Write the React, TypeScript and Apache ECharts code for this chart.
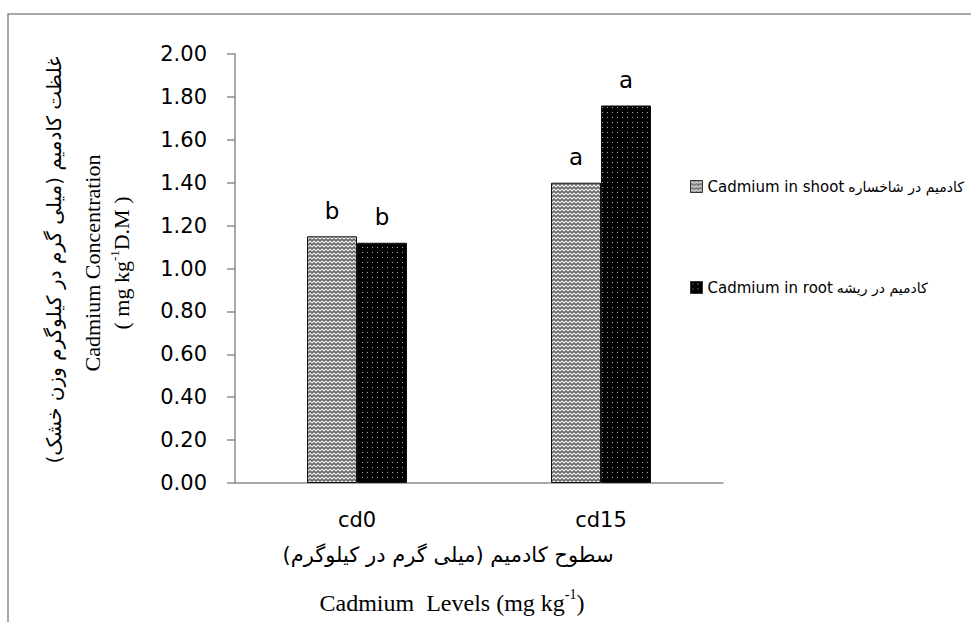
import React, { useEffect, useRef } from "react";
import * as echarts from "echarts";

const categories = ["cd0", "cd15"];
const shootValues = [1.15, 1.4];
const rootValues = [1.12, 1.76];
const shootLetters = ["b", "a"];
const rootLetters = ["b", "a"];
const seriesNames = ["Cadmium in shoot", "Cadmium in root"];
const seriesNamesFa = ["کادمیم در شاخساره", "کادمیم در ریشه"];
const yTitleFa = "غلظت کادمیم (میلی گرم در کیلوگرم وزن خشک)";
const yTitleEn = "Cadmium Concentration";
const xTitleFa = "سطوح کادمیم (میلی گرم در کیلوگرم)";

function makeShootPattern() {
  const c = document.createElement("canvas");
  c.width = 8;
  c.height = 8;
  const g = c.getContext("2d")!;
  g.fillStyle = "#6a6a6a";
  g.fillRect(0, 0, 8, 8);
  g.strokeStyle = "#f0f0f0";
  g.lineWidth = 1.1;
  for (const oy of [0, 4]) {
    g.beginPath();
    g.moveTo(0, oy + 3);
    g.lineTo(2, oy + 1);
    g.lineTo(4, oy + 3);
    g.lineTo(6, oy + 1);
    g.lineTo(8, oy + 3);
    g.stroke();
  }
  return c.toDataURL();
}

function makeRootPattern() {
  const c = document.createElement("canvas");
  c.width = 5;
  c.height = 5;
  const g = c.getContext("2d")!;
  g.fillStyle = "#000";
  g.fillRect(0, 0, 5, 5);
  g.fillStyle = "#a8a8a8";
  g.fillRect(2, 2, 1, 1);
  return c.toDataURL();
}

export default function App() {
  const ref = useRef<HTMLDivElement>(null);
  useEffect(() => {
    document.body.style.margin = "0";
    const chart = echarts.init(ref.current!, null, { renderer: "svg" });
    const shootPat: any = { image: makeShootPattern(), repeat: "repeat", imageWidth: 8, imageHeight: 8 };
    const rootPat: any = { image: makeRootPattern(), repeat: "repeat", imageWidth: 5, imageHeight: 5 };
    const tickFont = "'DejaVu Sans', sans-serif";
    const serif = "'Liberation Serif', serif";
    chart.setOption({
      animation: false,
      backgroundColor: "#fff",
      grid: { left: 235, right: 248, top: 54, bottom: 139, containLabel: false },
      legend: {
        orient: "vertical",
        left: 685,
        top: 174,
        itemGap: 86,
        itemWidth: 12,
        itemHeight: 12,
        itemStyle: { borderColor: "#333", borderWidth: 1 },
        icon: "rect",
        data: seriesNames,
        formatter: (name: string) => {
          const i = seriesNames.indexOf(name);
          return `{en|${name}}{fa|${seriesNamesFa[i]}}`;
        },
        textStyle: {
          rich: {
            en: { fontFamily: tickFont, fontSize: 15, color: "#000", padding: [0, 4, 0, 0] },
            fa: { fontFamily: tickFont, fontSize: 14, color: "#000" },
          },
        },
      },
      xAxis: {
        type: "category",
        data: categories,
        axisLine: { lineStyle: { color: "#8c8c8c", width: 1.5 } },
        axisTick: { show: false },
        axisLabel: { fontFamily: tickFont, fontSize: 21, color: "#000", margin: 26 },
      },
      yAxis: {
        type: "value",
        min: 0,
        max: 2,
        interval: 0.2,
        splitLine: { show: false },
        axisLine: { show: true, lineStyle: { color: "#8c8c8c", width: 1.5 } },
        axisTick: { show: true, inside: false, length: 8, lineStyle: { color: "#8c8c8c", width: 1.5 } },
        axisLabel: {
          fontFamily: tickFont,
          fontSize: 21,
          color: "#000",
          margin: 28,
          formatter: (v: number) => v.toFixed(2),
        },
      },
      series: [
        {
          name: seriesNames[0],
          type: "bar",
          data: shootValues,
          barWidth: 50,
          barGap: "0%",
          itemStyle: { color: shootPat, borderColor: "#111", borderWidth: 1 },
          label: {
            show: true,
            position: "top",
            distance: 14,
            fontFamily: tickFont,
            fontSize: 23,
            color: "#000",
            formatter: (p: any) => shootLetters[p.dataIndex],
          },
        },
        {
          name: seriesNames[1],
          type: "bar",
          data: rootValues,
          barWidth: 50,
          barGap: "0%",
          itemStyle: { color: rootPat, borderColor: "#111", borderWidth: 1 },
          label: {
            show: true,
            position: "top",
            distance: 14,
            fontFamily: tickFont,
            fontSize: 23,
            color: "#000",
            formatter: (p: any) => rootLetters[p.dataIndex],
          },
        },
      ],
      graphic: [
        {
          type: "rect",
          z: -10,
          shape: { x: 8, y: 14, width: 1000, height: 700 },
          style: { fill: "none", stroke: "#8c8c8c", lineWidth: 1.5 },
        },
        {
          type: "text",
          x: 54,
          y: 260,
          rotation: Math.PI / 2,
          style: {
            text: yTitleFa,
            font: "20px 'DejaVu Sans', sans-serif",
            fill: "#000",
            textAlign: "center",
            textVerticalAlign: "middle",
          },
        },
        {
          type: "text",
          x: 92,
          y: 263,
          rotation: Math.PI / 2,
          style: {
            text: yTitleEn,
            font: `22px ${serif}`,
            fill: "#000",
            textAlign: "center",
            textVerticalAlign: "middle",
          },
        },
        {
          type: "text",
          x: 120,
          y: 263,
          rotation: Math.PI / 2,
          style: {
            text: "{n|( mg kg}{s|-1}{n|D.M )}",
            textAlign: "center",
            textVerticalAlign: "middle",
            rich: {
              n: { fontFamily: serif, fontSize: 22, color: "#000", verticalAlign: "bottom", lineHeight: 25 },
              s: { fontFamily: serif, fontSize: 13, color: "#000", verticalAlign: "top", lineHeight: 25 },
            },
          },
        },
        {
          type: "text",
          x: 448,
          y: 555,
          style: {
            text: xTitleFa,
            font: "21px 'DejaVu Sans', sans-serif",
            fill: "#000",
            textAlign: "center",
            textVerticalAlign: "middle",
          },
        },
        {
          type: "text",
          x: 452,
          y: 601,
          style: {
            text: "{n|Cadmium  Levels (mg kg}{s|-1}{n|)}",
            textAlign: "center",
            textVerticalAlign: "middle",
            rich: {
              n: { fontFamily: serif, fontSize: 24, color: "#000", verticalAlign: "bottom", lineHeight: 27 },
              s: { fontFamily: serif, fontSize: 14, color: "#000", verticalAlign: "top", lineHeight: 27 },
            },
          },
        },
      ],
    });
    return () => chart.dispose();
  }, []);
  return <div ref={ref} style={{ position: "fixed", left: 0, top: 0, width: 971, height: 622 }} />;
}
